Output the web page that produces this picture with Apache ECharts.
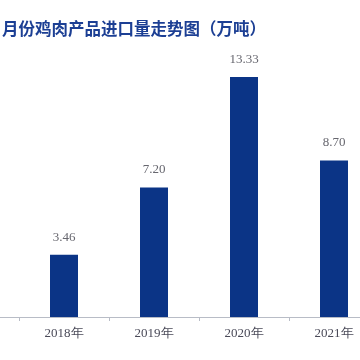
<!DOCTYPE html>
<html><head><meta charset="utf-8">
<script src="https://cdn.jsdelivr.net/npm/echarts@6/dist/echarts.min.js"></script>
<style>html,body{margin:0;padding:0;background:#fff}#c{width:360px;height:360px}</style>
</head><body><div id="c"></div>
<script>
const titleText = '月份鸡肉产品进口量走势图（万吨）';
const categories = ['2018年', '2019年', '2020年', '2021年'];
const imports = [3.46, 7.20, 13.33, 8.70];

const chart = echarts.init(document.getElementById('c'));
chart.setOption({
  backgroundColor: '#ffffff',
  animation: false,
  title: {
    text: titleText, left: -3, top: 15,
    textStyle: {fontFamily: 'Noto Sans CJK SC', fontWeight: 'bold', fontSize: 16.5, color: '#1c3f94'}
  },
  grid: {left: 19, width: 360, top: 29, bottom: 43, outerBoundsMode: 'none', containLabel: false},
  xAxis: {
    type: 'category', data: categories,
    axisLine: {lineStyle: {color: '#b8bcc6', width: 1}},
    axisTick: {show: true, length: 4, lineStyle: {color: '#b8bcc6'}},
    axisLabel: {fontFamily: 'Liberation Serif', fontSize: 13, color: '#4a4a58', margin: 10}
  },
  yAxis: {type: 'value', min: 0, max: 16, show: false, splitLine: {show: false}},
  graphic: [{type: 'line', shape: {x1: 0, y1: 317.5, x2: 19, y2: 317.5}, style: {stroke: '#b8bcc6', lineWidth: 1}}],
  series: [{
    type: 'bar', data: imports, barWidth: 28,
    itemStyle: {color: '#0b3486'},
    label: {show: true, position: 'top', distance: 11, formatter: p => p.value.toFixed(2),
      fontFamily: 'Liberation Serif', fontSize: 13, color: '#66666e'}
  }]
});
</script></body></html>
